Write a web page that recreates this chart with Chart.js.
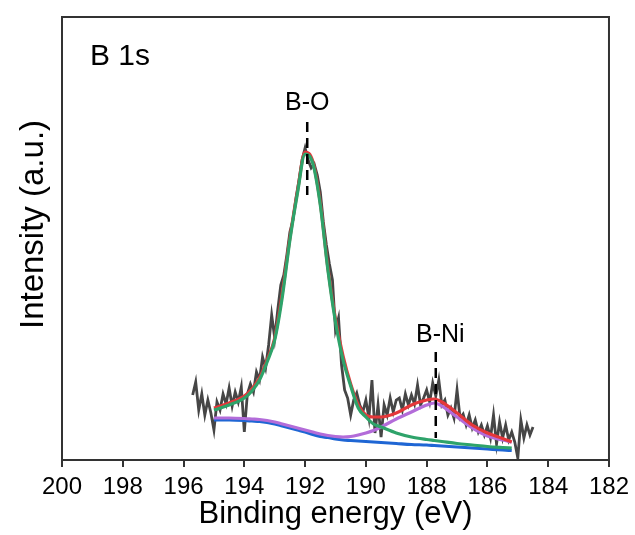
<!DOCTYPE html>
<html>
<head>
<meta charset="utf-8">
<script src="https://cdn.jsdelivr.net/npm/chart.js@4.4.1/dist/chart.umd.min.js"></script>
<style>
  html, body { margin: 0; padding: 0; background: #fff; }
</style>
</head>
<body>
<canvas id="xps" width="635" height="535"></canvas>
<script>
// raw B 1s spectrum (binding energy in eV, intensity in arbitrary units)
const rawEnergy = [195.7, 195.6, 195.5, 195.4, 195.3, 195.2, 195.1, 195.0, 194.9, 194.8,
  194.7, 194.6, 194.5, 194.4, 194.3, 194.2, 194.1, 194.0, 193.9, 193.8,
  193.7, 193.6, 193.5, 193.4, 193.3, 193.2, 193.1, 193.0, 192.9, 192.8,
  192.7, 192.6, 192.5, 192.4, 192.3, 192.2, 192.1, 192.0, 191.9, 191.8,
  191.7, 191.6, 191.5, 191.4, 191.3, 191.2, 191.1, 191.0, 190.9, 190.8,
  190.7, 190.6, 190.5, 190.4, 190.3, 190.2, 190.1, 190.0, 189.9, 189.8,
  189.7, 189.6, 189.5, 189.4, 189.3, 189.2, 189.1, 189.0, 188.9, 188.8,
  188.7, 188.6, 188.5, 188.4, 188.3, 188.2, 188.1, 188.0, 187.9, 187.8,
  187.7, 187.6, 187.5, 187.4, 187.3, 187.2, 187.1, 187.0, 186.9, 186.8,
  186.7, 186.6, 186.5, 186.4, 186.3, 186.2, 186.1, 186.0, 185.9, 185.8,
  185.7, 185.6, 185.5, 185.4, 185.3, 185.2, 185.1, 185.0, 184.9, 184.8,
  184.7, 184.6, 184.5];
const rawCounts = [65, 78, 50, 66, 45, 60, 47, 30, 58, 50,
  66, 56, 72, 54, 68, 58, 73, 28, 66, 76,
  68, 88, 80, 103, 92, 115, 145, 122, 150, 175,
  185, 205, 228, 240, 262, 280, 300, 312, 300, 292,
  296, 285, 268, 238, 215, 196, 180, 130, 142, 95,
  70, 62, 45, 60, 67, 55, 48, 60, 42, 80,
  27, 55, 23, 55, 45, 62, 48, 60, 62, 50,
  66, 55, 65, 56, 75, 55, 62, 70, 58, 77,
  64, 80, 55, 60, 45, 52, 42, 70, 42, 46,
  35, 45, 32, 40, 28, 35, 25, 34, 22, 45,
  16, 38, 22, 35, 20, 28, 18, 2, 40, 22,
  35, 25, 33];

// fitted components
const fitEnergy = [195.0, 194.5, 194.0, 193.75, 193.5, 193.25, 193.0, 192.75, 192.5, 192.25,
  192.0, 191.75, 191.5, 191.25, 191.0, 190.75, 190.5, 190.25, 190.0, 189.75,
  189.5, 189.0, 188.5, 188.0, 187.75, 187.5, 187.0, 186.5, 186.0, 185.5, 185.2];
const envelope = [52, 57, 64, 71, 82, 100, 122, 167, 222, 269,
  308, 299, 257, 192, 141, 104, 76, 55, 45, 43,
  43, 47, 55, 60, 61, 58, 47, 35, 27, 21.5, 18];
const peakBO = [50, 55, 62, 69, 80, 98, 120, 163, 220, 267,
  306, 297, 255, 190, 138, 100, 74, 52, 43, 36,
  33, 27, 23, 20.5, 19.5, 18.5, 16.5, 15, 13.5, 12.5, 12];
const peakBNi = [42, 42, 41.5, 41, 40.5, 39.5, 38, 36, 34, 32,
  30, 28, 26, 24.5, 23.5, 23, 23.5, 25, 27, 29.5,
  33, 41, 48, 55, 57, 54, 43, 32, 24, 20, 18];
const background = [40, 40, 39.5, 39, 38.5, 37.5, 36, 34, 32, 30,
  28, 25.5, 23.5, 22.5, 21, 20, 19.5, 19, 18.5, 18,
  17.5, 16.5, 15.5, 15, 14.5, 14, 13, 12, 11, 10, 9.5];

// peak position markers
const markerNames = ['B-O', 'B-Ni'];
const markerEnergy = [191.93, 187.7];
const markerTop = [338, 108];
const markerBottom = [265, 22];
const markerLabelEnergy = [191.93, 187.55];
const markerLabelHeight = [350, 118];

const xTicks = [200, 198, 196, 194, 192, 190, 188, 186, 184, 182];

const FONT = '"Liberation Sans", Arial, sans-serif';

function pairs(xs, ys) {
  return xs.map((x, i) => ({ x: x, y: ys[i] }));
}

const markerSets = markerNames.map((n, i) => ({
  label: n,
  data: [{ x: markerEnergy[i], y: markerTop[i] }, { x: markerEnergy[i], y: markerBottom[i] }],
  borderColor: '#000',
  borderWidth: 2.5,
  borderDash: [10, 6],
  pointRadius: 0
}));

function fitSet(label, ys, color) {
  return {
    label: label,
    data: pairs(fitEnergy, ys),
    borderColor: color,
    borderWidth: 3.2,
    pointRadius: 0,
    cubicInterpolationMode: 'monotone'
  };
}

const decor = {
  id: 'decor',
  afterDraw(chart) {
    const { ctx, chartArea: a, scales: { x, y } } = chart;
    ctx.save();
    ctx.strokeStyle = '#333';
    ctx.lineWidth = 2;
    ctx.strokeRect(a.left, a.top, a.right - a.left, a.bottom - a.top);

    ctx.fillStyle = '#000';
    ctx.textBaseline = 'alphabetic';
    ctx.font = '30px ' + FONT;
    ctx.textAlign = 'left';
    ctx.fillText('B 1s', x.getPixelForValue(199.08), y.getPixelForValue(395));

    ctx.font = '25px ' + FONT;
    ctx.textAlign = 'center';
    markerNames.forEach((n, i) => {
      ctx.fillText(n, x.getPixelForValue(markerLabelEnergy[i]), y.getPixelForValue(markerLabelHeight[i]));
    });

    // y axis title
    ctx.translate(a.left - 19, (a.top + a.bottom) / 2 - 14);
    ctx.rotate(-Math.PI / 2);
    ctx.font = '33px ' + FONT;
    ctx.fillText('Intensity (a.u.)', 0, 0);
    ctx.restore();
  }
};

new Chart(document.getElementById('xps'), {
  type: 'line',
  data: {
    datasets: [
      ...markerSets,
      fitSet('B-O', peakBO, '#2ea36a'),
      fitSet('Envelope', envelope, '#e5373a'),
      fitSet('B-Ni', peakBNi, '#b36cd9'),
      fitSet('Background', background, '#1f66d4'),
      {
        label: 'Raw',
        data: pairs(rawEnergy, rawCounts),
        borderColor: '#464646',
        borderWidth: 2.8,
        pointRadius: 0,
        tension: 0
      }
    ]
  },
  options: {
    responsive: false,
    animation: false,
    layout: { padding: { top: 17, right: 24, left: 0, bottom: 0 } },
    plugins: { legend: { display: false }, tooltip: { enabled: false } },
    scales: {
      x: {
        type: 'linear',
        reverse: true,
        min: 182,
        max: 200,
        afterBuildTicks: s => { s.ticks = xTicks.map(v => ({ value: v })); },
        afterFit: s => { s.height = 75; },
        grid: { display: true, drawOnChartArea: false, drawTicks: true, tickLength: 7, color: '#333', lineWidth: 2 },
        border: { display: true, color: '#333', width: 2 },
        ticks: { color: '#000', font: { family: FONT, size: 24 }, padding: 6, maxRotation: 0, autoSkip: false },
        title: { display: true, text: 'Binding energy (eV)', color: '#000', font: { family: FONT, size: 31 }, padding: { top: 0, bottom: 2 } }
      },
      y: {
        min: 0,
        max: 443,
        afterFit: s => { s.width = 62; },
        grid: { display: false },
        border: { display: true, color: '#333', width: 2 },
        ticks: { display: false }
      }
    }
  },
  plugins: [decor]
});
</script>
</body>
</html>
